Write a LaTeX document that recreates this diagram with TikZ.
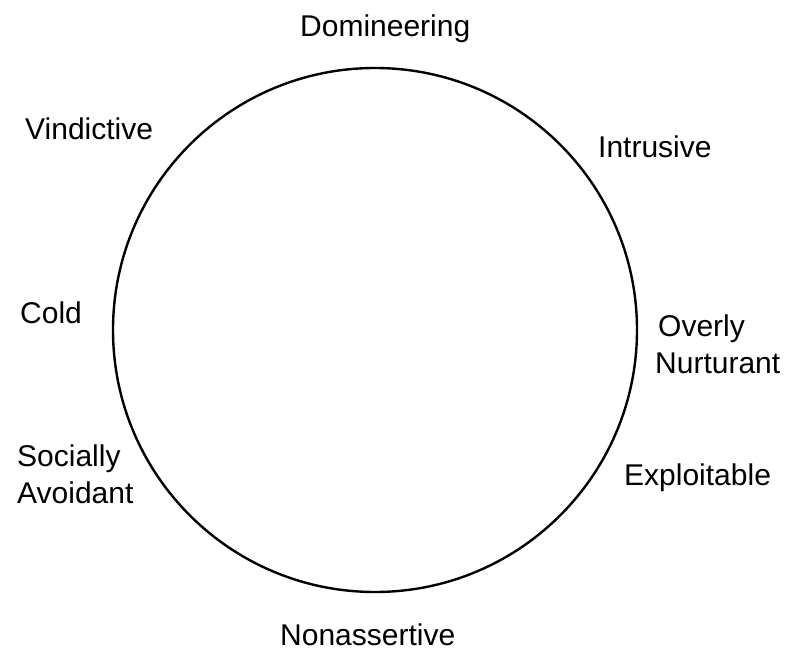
\documentclass[tikz,border=0pt]{standalone}
\usepackage{fontspec}
\setmainfont{Liberation Sans}
\begin{document}
\begin{tikzpicture}[x=1pt,y=-1pt,
  lbl/.style={inner sep=0pt,anchor=base west,font=\fontsize{30}{36}\selectfont},
  lbl2/.style={inner sep=0pt,anchor=north west,align=left,font=\fontsize{30}{37}\selectfont}]
\useasboundingbox (0,0) rectangle (785,650);
\draw[line width=2.4pt] (375,330) circle[radius=262pt];
\node[lbl] (dom) at (300,37) {Domineering};
\node[lbl] (intr) at (598,158) {Intrusive};
\node[lbl] (vind) at (25,140) {Vindictive};
\node[lbl] (cold) at (20,323) {Cold};
\node[lbl2] (over) at (655,315) {\hspace*{3pt}Overly\\Nurturant};
\node[lbl] (expl) at (624,485) {Exploitable};
\node[lbl2] (soc) at (17,445) {Socially\\Avoidant};
\node[lbl] (non) at (280,645) {Nonassertive};
\end{tikzpicture}
\end{document}
